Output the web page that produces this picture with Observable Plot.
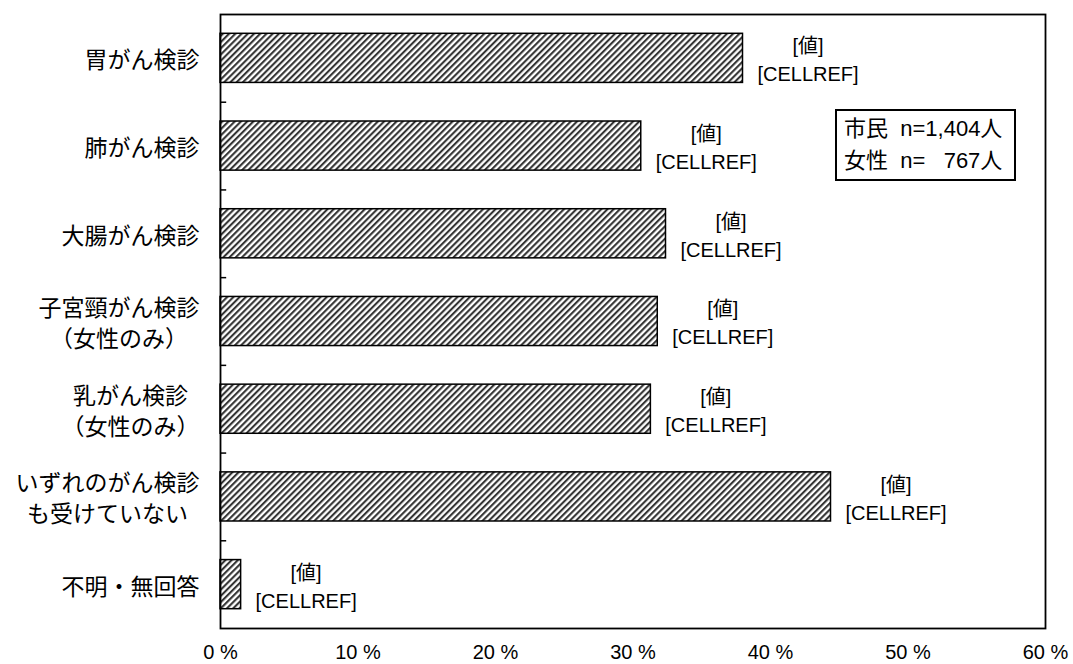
<!DOCTYPE html>
<html>
<head>
<meta charset="utf-8">
<script src="https://cdn.jsdelivr.net/npm/d3@7"></script>
<script src="https://cdn.jsdelivr.net/npm/@observablehq/plot@0.6"></script>
<style>
  body { margin: 0; background: #fff; }
  #wrap { position: relative; width: 1073px; height: 664px; }
  #legend {
    position: absolute; left: 835px; top: 109px; width: 181px; height: 72px;
    border: 2px solid #000; background: #fff;
    font-family: "Liberation Sans", "Noto Sans CJK JP", sans-serif; font-size: 22px;
    white-space: pre; line-height: 32px; padding: 2px 0 0 7px; box-sizing: border-box;
  }
</style>
</head>
<body>
<div id="wrap"></div>
<script>
const categories = ["胃がん検診", "肺がん検診", "大腸がん検診", "子宮頸がん検診\n（女性のみ）", "乳がん検診\n（女性のみ）", "いずれのがん検診\nも受けていない", "不明・無回答"];
const values = [38.0, 30.6, 32.4, 31.8, 31.3, 44.4, 1.5];
const xTicks = [0, 10, 20, 30, 40, 50, 60];
const dataLabel = "[値]\n[CELLREF]";
const legendLines = ["市民  n=1,404人", "女性  n=   767人"];

const data = categories.map((c, i) => ({category: c, value: values[i]}));

const W = 1073, H = 664, mt = 14, mb = 36, ml = 220, mr = 28;
const step = (H - mt - mb) / categories.length;
const catFs = 23;
const font = '"Liberation Sans", "Noto Sans CJK JP", sans-serif';

const catMarks = categories.map(c => {
  const maxLen = Math.max(...c.split("\n").map(s => s.length));
  return Plot.text([c], {
    x: 0, y: d => d, text: d => d,
    textAnchor: "middle", dx: -(21 + maxLen * catFs / 2),
    fontSize: catFs, lineHeight: 1.35, fill: "#000"
  });
});

const svg = Plot.plot({
  width: W, height: H,
  marginTop: mt, marginBottom: mb, marginLeft: ml, marginRight: mr,
  style: {fontFamily: font, fontSize: "20px", color: "#000", background: "#fff"},
  x: {domain: [0, 60], ticks: xTicks, label: null},
  y: {domain: categories, paddingInner: 0.44, paddingOuter: 0.22, round: false, axis: null, label: null},
  marks: [
    Plot.barX(data, {x: "value", y: "category", fill: "url(#hatch)", stroke: "#000", strokeWidth: 1.5}),
    Plot.ruleY(categories.slice(1), {y: d => d, x1: 0, x2: 0.45, dy: -step / 2, stroke: "#000", strokeWidth: 1.5}),
    Plot.text(data, {x: "value", y: "category", text: () => dataLabel, dx: 65, textAnchor: "middle", fontSize: 20, lineHeight: 1.4, fill: "#000"}),
    ...catMarks,
    Plot.axisX({ticks: xTicks, tickSize: 0, tickPadding: 16, tickFormat: d => d + " %", fontSize: 20, fill: "#000", label: null}),
    Plot.frame({stroke: "#000", strokeWidth: 1.8})
  ]
});

const ns = "http://www.w3.org/2000/svg";
const defs = document.createElementNS(ns, "defs");
defs.innerHTML = '<pattern id="hatch" patternUnits="userSpaceOnUse" width="4.4" height="4.4" patternTransform="rotate(45)">' +
  '<rect width="4.4" height="4.4" fill="#fff"/>' +
  '<line x1="1.1" y1="0" x2="1.1" y2="4.4" stroke="#2a2a2a" stroke-width="2"/></pattern>';
svg.insertBefore(defs, svg.firstChild);

const wrap = document.getElementById("wrap");
wrap.appendChild(svg);
const legend = document.createElement("div");
legend.id = "legend";
legend.textContent = legendLines.join("\n");
wrap.appendChild(legend);
</script>
</body>
</html>
